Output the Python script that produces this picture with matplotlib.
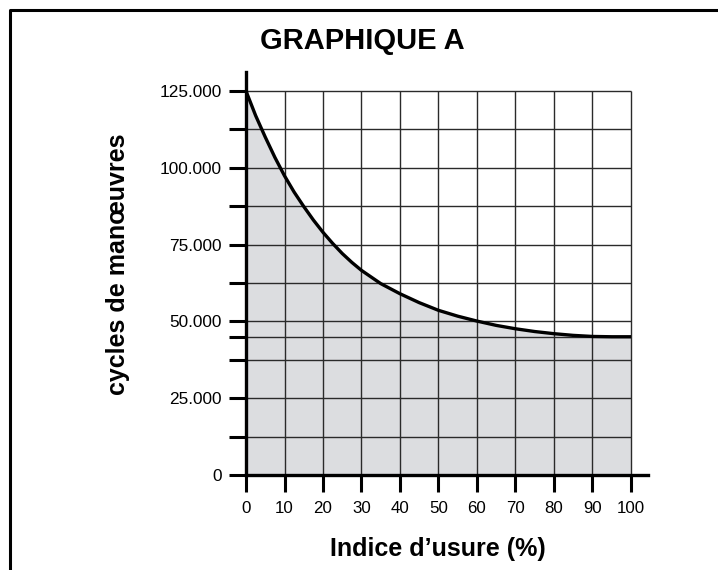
import matplotlib
matplotlib.use("Agg")
import matplotlib.pyplot as plt
from matplotlib.lines import Line2D

plt.rcParams['font.family'] = ['Liberation Sans', 'DejaVu Sans']

# Data
wear_pct = [0, 2.5, 5, 7.5, 10, 12.5, 15, 17.5, 20, 22.5, 25, 27.5, 30, 35, 40, 45, 50, 55,
            60, 65, 70, 75, 80, 85, 90, 95, 100]
cycles = [125000, 117000, 110000, 103400, 97400, 92100, 87400, 83000, 79000, 75400, 72100,
          69200, 66600, 62300, 59000, 56100, 53600, 51700, 50100, 48700, 47600, 46700,
          46000, 45450, 45100, 45000, 45000]

x_ticks = [0, 10, 20, 30, 40, 50, 60, 70, 80, 90, 100]
x_tick_labels = [str(v) for v in x_ticks]
y_grid = [0, 12500, 25000, 37500, 45000, 50000, 62500, 75000, 87500, 100000, 112500, 125000]
y_label_vals = [0, 25000, 50000, 75000, 100000, 125000]
y_label_text = ["0", "25.000", "50.000", "75.000", "100.000", "125.000"]

title = "GRAPHIQUE A"
xlabel = "Indice d\u2019usure (%)"
ylabel = "cycles de man\u0153uvres"

W, H = 718, 570
fig = plt.figure(figsize=(W / 100, H / 100), dpi=100)

ax_left, ax_right, ax_bottom, ax_top = 246, 648, 475, 72
ax = fig.add_axes([ax_left / W, 1 - ax_bottom / H, (ax_right - ax_left) / W, (ax_bottom - ax_top) / H])

xmax = 100 * (ax_right - ax_left) / (631 - ax_left)
ymax = 125000 * (ax_bottom - ax_top) / (ax_bottom - 91)
ax.set_xlim(0, xmax)
ax.set_ylim(0, ymax)

# fill and grid
ax.fill_between(wear_pct, 0, cycles, color='#dcdde0', zorder=1, lw=0)
ax.vlines(x_ticks[1:], 0, 125000, color='#2a2a2a', lw=1.0, zorder=2)
ax.hlines(y_grid[1:], 0, 100, color='#2a2a2a', lw=1.0, zorder=2)
ax.plot(wear_pct, cycles, color='black', lw=2.4, zorder=3, solid_capstyle='butt',
        solid_joinstyle='round')

for s in ['top', 'right']:
    ax.spines[s].set_visible(False)
for s in ['left', 'bottom']:
    ax.spines[s].set_linewidth(2.4)
    ax.spines[s].set_zorder(4)

ax.set_xticks(x_ticks)
ax.set_xticklabels(x_tick_labels, fontsize=12.2)
ax.set_yticks(y_grid)
ax.set_yticklabels([y_label_text[y_label_vals.index(v)] if v in y_label_vals else "" for v in y_grid],
                   fontsize=12.4)
ax.tick_params(axis='both', direction='out', length=12.5, width=2.2, color='black')
ax.tick_params(axis='x', pad=6)
ax.tick_params(axis='y', pad=5)

fig.text(362 / W, 1 - 41 / H, title, fontsize=21, fontweight='bold', ha='center', va='center')
fig.text(438 / W, 1 - 549 / H, xlabel, fontsize=18, fontweight='bold', ha='center', va='center')
fig.text(118 / W, 1 - 264 / H, ylabel, fontsize=18, fontweight='bold', ha='center', va='center',
         rotation=90)

# outer frame (left and top edges visible)
fig.add_artist(Line2D([10 / W, 10 / W, 1.01], [-0.01, 1 - 10 / H, 1 - 10 / H],
                      transform=fig.transFigure, color='black', lw=2.2))

fig.savefig("out.png", dpi=100)
